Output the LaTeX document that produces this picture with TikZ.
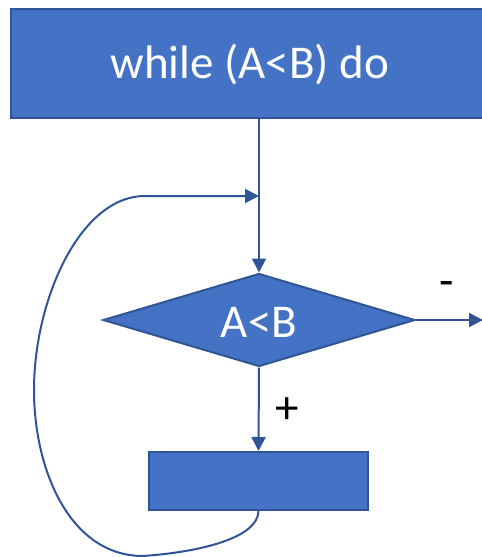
\documentclass[tikz,border=0pt]{standalone}
\usepackage{fontspec}
\setmainfont{Carlito}
\usetikzlibrary{arrows.meta,shapes.geometric}
\definecolor{boxfill}{HTML}{4472C4}
\definecolor{boxline}{HTML}{2F5597}
\tikzset{
  flow/.style={draw=boxline,line width=2pt},
  arr/.style={flow,-{Triangle[length=14pt,width=14pt]}},
  block/.style={draw=boxline,fill=boxfill,line width=2pt,inner sep=0pt},
  label/.style={text=white,font=\fontsize{47}{52}\selectfont,inner sep=0pt},
  sign/.style={font=\fontsize{47}{52}\selectfont,text=black,inner sep=0pt},
}
\begin{document}
\begin{tikzpicture}[x=1pt,y=-1pt]
  \useasboundingbox (0,0) rectangle (482,557);
  \clip (0,0) rectangle (482,557);
  % header block
  \node[block,minimum width=484pt,minimum height=109pt,anchor=north west] (hdr) at (10,8) {};
  \node[label] (hdrtxt) at (250,65) {while (A<B) do};
  % condition
  \node[block,diamond,minimum width=312pt,minimum height=93pt,aspect=3.35] (cond) at (259,320) {};
  \node[label] (condtxt) at (259,322) {A<B};
  % loop body
  \node[block,minimum width=219pt,minimum height=58pt] (body) at (258.5,481) {};
  % join point and exit
  \coordinate (join) at (259,196);
  \coordinate (exit) at (483,320);
  \draw[arr] (hdr.south -| join) -- (cond.north);
  \draw[arr] (cond.east) -- (exit);
  \draw[arr] (cond.south) -- (body.north);
  \draw[arr] (body.south) .. controls (258,538) and (200,552) .. (143,556)
    .. controls (70,556) and (34,470) .. (34,390)
    .. controls (34,300) and (80,196) .. (145,196) -- (join);
  \node[sign] (minus) at (447,289) {-};
  \node[sign] (plus) at (287,411) {+};
\end{tikzpicture}
\end{document}
